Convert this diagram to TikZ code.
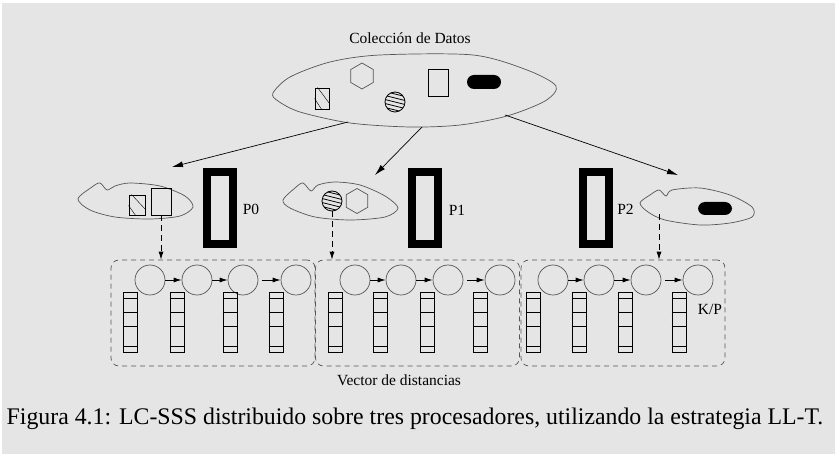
\documentclass[tikz,border=0pt]{standalone}
\usepackage{fontspec}
\setmainfont{Liberation Serif}
\usetikzlibrary{calc,arrows.meta,shapes.geometric}

\definecolor{fondo}{HTML}{E5E5E5}
\definecolor{linea}{HTML}{555555}

\begin{document}
\begin{tikzpicture}[x=1pt,y=-1pt]
    \tikzstyle{every node}=[inner sep=0, font=\fontsize{15.5}{18}\selectfont]
    \tikzstyle{borde}=[draw=linea, line width=0.7pt]
    \tikzstyle{proc}=[draw, line width=8pt, minimum width=26pt, minimum height=72pt]
    \tikzstyle{elem}=[circle, borde, minimum size=30pt]
    \tikzstyle{celda}=[draw, line width=1pt, minimum width=14pt, minimum height=60pt]
    \tikzstyle{grupo}=[borde, dash pattern=on 5pt off 4pt, rounded corners=8pt, minimum width=204pt, minimum height=106pt]
    \tikzstyle{hexa}=[regular polygon, regular polygon sides=6, shape border rotate=30, borde, minimum size=26pt]
    \tikzstyle{pastilla}=[fill, rounded corners=7pt, minimum width=34pt, minimum height=14pt]
    \tikzstyle{caja}=[draw, line width=0.8pt, minimum width=20pt, minimum height=27pt]
    \tikzstyle{bola}=[circle, draw, line width=0.8pt, minimum size=20pt]
    \tikzstyle{flecha}=[-{Latex[length=11pt,width=6pt]}, line width=0.7pt]
    \tikzstyle{flechita}=[-{Latex[length=8pt,width=5pt]}, line width=0.8pt]
    \tikzstyle{discont}=[flechita, dash pattern=on 6pt off 4pt]

    % fondo
    \fill[white] (0,0) rectangle (836,454);
    \fill[fondo] (2,3) rectangle (835,454);

    % Coleccion de datos
    \node (titulo) at (410,38) {Colección de Datos};
    \draw[borde] plot[smooth cycle] coordinates {(273,93) (290,77) (330,62) (380,55) (473,55) (527,70) (556,86) (545,101) (507,116) (460,125) (410,127) (350,123) (300,112) (278,101)};
    \node[caja, minimum width=14pt, minimum height=21pt] (hr) at (322,98.5) {};
    \node[hexa] (hx) at (362,76) {};
    \node[bola] (hc) at (395,102) {};
    \node[caja] (sq) at (438,82.5) {};
    \node[pastilla] (pl) at (484,82) {};

    % nubes de cada procesador
    \draw[borde] plot[smooth cycle] coordinates {(78,199) (92,187) (100,183) (107,190) (115,186) (130,183) (160,186) (185,196) (193,207) (180,216) (150,219) (115,217) (90,210)};
    \node[caja, minimum width=16pt, minimum height=20pt] (hr0) at (137,205) {};
    \node[caja] (sq0) at (161,201.5) {};
    \draw[borde] plot[smooth cycle] coordinates {(283,200) (295,188) (303,183) (311,191) (318,185) (335,182) (360,185) (385,196) (398,208) (385,217) (350,220) (315,217) (290,208)};
    \node[bola] (hc1) at (332,201) {};
    \node[hexa, minimum size=25pt] (hx1) at (357,201) {};
    \draw[borde] plot[smooth cycle] coordinates {(640,203) (650,195) (659,190) (666,196) (672,190) (700,188) (730,195) (752,207) (752,217) (730,223) (700,225) (665,220) (648,212)};
    \node[pastilla, minimum height=13pt] (pl2) at (715,208.5) {};
    \coordinate (n2) at (659,214);

    % rayados
    \foreach \r in {hr,hr0} {
        \draw ($(\r.north west)+(3,0)$) -- ($(\r.south east)+(0,-6)$);
        \draw ($(\r.north west)+(0,11)$) -- ($(\r.south west)+(7,0)$);
    }
    \foreach \c in {hc,hc1} {
        \begin{scope}
            \clip (\c.center) circle (10pt);
            \foreach \d in {-8,-4,...,8}
                \draw[line width=0.8pt] ($(\c.center)+(-12,\d-3)$) -- ($(\c.center)+(12,\d+3)$);
        \end{scope}
    }

    % reparto
    \coordinate (s0) at (348,122);
    \coordinate (s1) at (422,127);
    \coordinate (s2) at (505,115);
    \coordinate (e0) at (172,167);
    \coordinate (e1) at (375,175);
    \coordinate (e2) at (678,175);
    \draw[flecha] (s0) -- (e0);
    \draw[flecha] (s1) -- (e1);
    \draw[flecha] (s2) -- (e2);

    % procesadores
    \node[proc] (P0) at (220,208) {};
    \node[proc] (P1) at (425,208) {};
    \node[proc] (P2) at (595.5,208) {};
    \node (lP0) at ($(P0)+(31,1)$) {P0};
    \node (lP1) at ($(P1)+(32,2)$) {P1};
    \node (lP2) at ($(P2)+(30,1)$) {P2};

    % vector de distancias
    \node[grupo] (V0) at (213,313) {};
    \node[grupo] (V1) at (417.5,313) {};
    \node[grupo] (V2) at (623,313) {};
    \foreach \b/\cs/\vs in {0/{150,197,243,296}/{130.5,177.5,230,276},
                            1/{355,401,448,500}/{335,380.5,427.5,480.5},
                            2/{553,599,646,698}/{533,579,625.5,679}} {
        \foreach \x [count=\i] in \cs
            \node[elem] (c\b\i) at (\x,280) {};
        \foreach \x [count=\i] in \vs {
            \node[celda] (v\b\i) at (\x,323) {};
            \foreach \d in {6,20,34,54}
                \draw[line width=1pt] ($(v\b\i.north west)+(0,\d)$) -- ($(v\b\i.north east)+(0,\d)$);
        }
        \draw[flechita] (c\b1) -- (c\b2);
        \draw[flechita] (c\b2) -- (c\b3);
        \draw[flechita, shorten <=4pt] (c\b3) -- (c\b4);
    }
    \draw[discont] (sq0.south) -- (sq0.south |- V0.north);
    \draw[discont] (hc1.south) -- (hc1.south |- V1.north);
    \draw[discont] (n2) -- (n2 |- V2.north);

    \node (kp) at (710,309) {K/P};
    \node (vd) at (399,380) {Vector de distancias};
    \node[font=\fontsize{23.8}{28}\selectfont] (pie) at (415,419) {Figura 4.1: LC-SSS distribuido sobre tres procesadores, utilizando la estrategia LL-T.};
\end{tikzpicture}
\end{document}
